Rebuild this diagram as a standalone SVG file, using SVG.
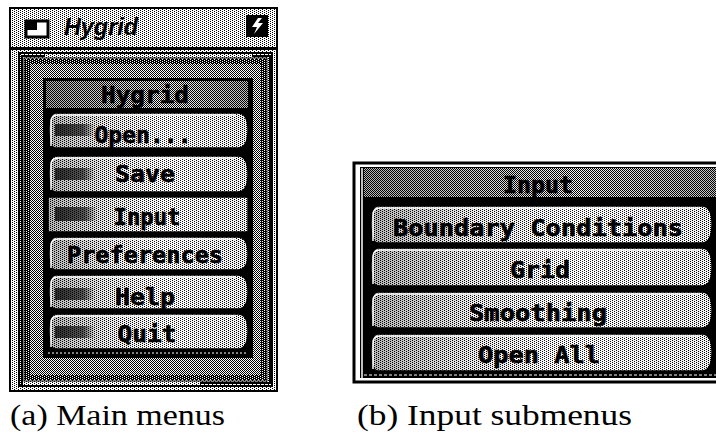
<svg xmlns="http://www.w3.org/2000/svg" width="716" height="434" viewBox="0 0 716 434">
<defs>
<pattern id="p25" width="4" height="2" patternUnits="userSpaceOnUse"><rect width="4" height="2" fill="#fff"/><rect x="0" y="0" width="1" height="1" fill="#000"/><rect x="2" y="1" width="1" height="1" fill="#000"/></pattern>
<pattern id="p50" width="2" height="2" patternUnits="userSpaceOnUse"><rect width="2" height="2" fill="#fff"/><rect width="1" height="1" fill="#000"/><rect x="1" y="1" width="1" height="1" fill="#000"/></pattern>
<pattern id="p75" width="4" height="2" patternUnits="userSpaceOnUse"><rect width="4" height="2" fill="#000"/><rect x="0" y="0" width="1" height="1" fill="#fff"/><rect x="2" y="1" width="1" height="1" fill="#fff"/></pattern>
<linearGradient id="shadeL" x1="0" y1="0" x2="1" y2="0"><stop offset="0" stop-color="#000" stop-opacity="0.3"/><stop offset="0.3" stop-color="#000" stop-opacity="0.08"/><stop offset="0.6" stop-color="#fff" stop-opacity="0.1"/><stop offset="1" stop-color="#000" stop-opacity="0.05"/></linearGradient>
<linearGradient id="shadeT" x1="0" y1="0" x2="1" y2="0"><stop offset="0" stop-color="#000" stop-opacity="0.3"/><stop offset="0.6" stop-color="#000" stop-opacity="0.05"/><stop offset="1" stop-color="#000" stop-opacity="0.25"/></linearGradient>
<linearGradient id="ind" x1="0" y1="0" x2="1" y2="0"><stop offset="0" stop-color="#000" stop-opacity="0.75"/><stop offset="0.7" stop-color="#000" stop-opacity="0.6"/><stop offset="1" stop-color="#000" stop-opacity="0"/></linearGradient>
<style>
.btn{fill:url(#p25);stroke:#000;stroke-width:1.5}
.hl{fill:none;stroke:#fff;stroke-width:1.5}
.shade{fill:url(#shadeL)}
.lbl{font-family:"DejaVu Sans Mono",monospace;font-weight:bold;font-size:23px;fill:#000;text-anchor:middle;stroke:#000;stroke-width:0.6}
.cap{font-family:"Liberation Serif","DejaVu Serif",serif;font-size:30px;fill:#000}
</style>
</defs>
<rect width="716" height="434" fill="#fff"/>

<g id="window-a">
 <rect x="10" y="8" width="267" height="383" fill="url(#p25)" stroke="#000" stroke-width="2"/>
 <rect x="11" y="9" width="265" height="39" fill="url(#p25)"/>
 <line x1="10" y1="48.5" x2="277" y2="48.5" stroke="#000" stroke-width="3"/>
 <g id="title-icon-left">
  <rect x="26" y="21" width="22" height="16" fill="#fff" stroke="#000" stroke-width="3"/>
  <rect x="25" y="20" width="12" height="10" fill="#000"/>
 </g>
 <text x="64" y="35" font-family="Liberation Sans, Arial, sans-serif" font-weight="bold" font-style="italic" font-size="24" textLength="74" lengthAdjust="spacingAndGlyphs">Hygrid</text>
 <g id="title-icon-right">
  <rect x="246" y="15" width="22" height="22" fill="#000"/>
  <polygon points="258,18 252,27 257,27 254,34 263,23 258,23 262,18" fill="#fff"/>
 </g>
 <rect x="19" y="53" width="253" height="333" fill="url(#p25)" stroke="#000" stroke-width="2"/>
 <rect x="25" y="59" width="241" height="321" fill="url(#p75)"/>
 <rect x="30" y="64" width="231" height="311" fill="url(#p50)"/>
 <rect x="24" y="58" width="243" height="323" fill="none" stroke="#000" stroke-width="1"/>
 <polyline points="22,385 22,56 45,56" fill="none" stroke="#000" stroke-width="2"/>
 <polyline points="252,56 270,56 270,383 200,383" fill="none" stroke="#000" stroke-width="2"/>
 <rect x="43" y="78" width="210" height="280" fill="#000"/>
</g>

<g id="menu-title-a">
 <rect x="46" y="81" width="202" height="27" fill="url(#p50)"/>
 <rect x="46" y="81" width="202" height="27" fill="url(#shadeT)"/>
 <text class="lbl" x="145" y="103" textLength="88" lengthAdjust="spacingAndGlyphs">Hygrid</text>
</g>

<g id="btn-open">
 <path class="btn" d="M56,113 H238 Q248,113 248,130 Q248,148 238,148 H56 Q49,148 49,130 Q49,113 56,113 Z"/>
 <path class="shade" d="M56,113 H238 Q248,113 248,130 Q248,148 238,148 H56 Q49,148 49,130 Q49,113 56,113 Z"/>
 <path class="hl" d="M51,146 V122 Q51,115 58,115 H236"/>
 <rect x="55" y="124" width="40" height="12" fill="url(#ind)"/>
 <text class="lbl" x="143" y="143" textLength="97" lengthAdjust="spacingAndGlyphs">Open...</text>
</g>
<g id="btn-save">
 <path class="btn" d="M56,156 H238 Q248,156 248,174 Q248,192 238,192 H56 Q49,192 49,174 Q49,156 56,156 Z"/>
 <path class="shade" d="M56,156 H238 Q248,156 248,174 Q248,192 238,192 H56 Q49,192 49,174 Q49,156 56,156 Z"/>
 <path class="hl" d="M51,190 V165 Q51,158 58,158 H236"/>
 <rect x="55" y="168" width="40" height="12" fill="url(#ind)"/>
 <text class="lbl" x="145" y="182" textLength="60" lengthAdjust="spacingAndGlyphs">Save</text>
</g>
<g id="btn-input">
 <rect x="48" y="197" width="200" height="35" fill="url(#p25)" stroke="#000" stroke-width="1.5"/>
 <rect x="48" y="197" width="200" height="35" class="shade"/>
 <rect x="55" y="207" width="42" height="14" fill="url(#ind)"/>
 <text class="lbl" x="147" y="225" textLength="67" lengthAdjust="spacingAndGlyphs">Input</text>
</g>
<g id="btn-preferences">
 <path class="btn" d="M56,237 H238 Q248,237 248,254 Q248,270 238,270 H56 Q49,270 49,254 Q49,237 56,237 Z"/>
 <path class="shade" d="M56,237 H238 Q248,237 248,254 Q248,270 238,270 H56 Q49,270 49,254 Q49,237 56,237 Z"/>
 <path class="hl" d="M51,268 V246 Q51,239 58,239 H236"/>
 <text class="lbl" x="145" y="263" textLength="156" lengthAdjust="spacingAndGlyphs">Preferences</text>
</g>
<g id="btn-help">
 <path class="btn" d="M56,275 H238 Q248,275 248,292 Q248,309 238,309 H56 Q49,309 49,292 Q49,275 56,275 Z"/>
 <path class="shade" d="M56,275 H238 Q248,275 248,292 Q248,309 238,309 H56 Q49,309 49,292 Q49,275 56,275 Z"/>
 <path class="hl" d="M51,307 V284 Q51,277 58,277 H236"/>
 <rect x="55" y="288" width="40" height="12" fill="url(#ind)"/>
 <text class="lbl" x="145" y="305" textLength="60" lengthAdjust="spacingAndGlyphs">Help</text>
</g>
<g id="btn-quit">
 <path class="btn" d="M56,314 H238 Q248,314 248,331 Q248,349 238,349 H56 Q49,349 49,331 Q49,314 56,314 Z"/>
 <path class="shade" d="M56,314 H238 Q248,314 248,331 Q248,349 238,349 H56 Q49,349 49,331 Q49,314 56,314 Z"/>
 <path class="hl" d="M51,347 V323 Q51,316 58,316 H236"/>
 <rect x="55" y="326" width="40" height="12" fill="url(#ind)"/>
 <text class="lbl" x="147" y="342" textLength="59" lengthAdjust="spacingAndGlyphs">Quit</text>
 <line x1="48" y1="353" x2="248" y2="353" stroke="#fff" stroke-width="1" stroke-dasharray="2,2"/>
</g>

<g id="window-b">
 <rect x="354" y="163" width="364" height="219" fill="#fff" stroke="#000" stroke-width="3"/>
 <rect x="360" y="167" width="358" height="211" fill="#000"/>
 <line x1="362" y1="168" x2="362" y2="378" stroke="#fff" stroke-width="1.5"/>
</g>
<g id="menu-title-b">
 <rect x="364" y="168" width="354" height="29" fill="url(#p50)"/>
 <rect x="364" y="168" width="354" height="29" fill="url(#shadeT)"/>
 <text class="lbl" x="538" y="193" font-size="24" textLength="70" lengthAdjust="spacingAndGlyphs">Input</text>
</g>
<g id="btn-boundary">
 <path class="btn" d="M378,206 H702 Q712,206 712,224 Q712,243 702,243 H378 Q371,243 371,224 Q371,206 378,206 Z"/>
 <path class="shade" d="M378,206 H702 Q712,206 712,224 Q712,243 702,243 H378 Q371,243 371,224 Q371,206 378,206 Z"/>
 <path class="hl" d="M373,241 V215 Q373,208 380,208 H700"/>
 <text class="lbl" x="538" y="236" font-size="24" textLength="290" lengthAdjust="spacingAndGlyphs">Boundary Conditions</text>
</g>
<g id="btn-grid">
 <path class="btn" d="M378,248 H702 Q712,248 712,267 Q712,286 702,286 H378 Q371,286 371,267 Q371,248 378,248 Z"/>
 <path class="shade" d="M378,248 H702 Q712,248 712,267 Q712,286 702,286 H378 Q371,286 371,267 Q371,248 378,248 Z"/>
 <path class="hl" d="M373,284 V257 Q373,250 380,250 H700"/>
 <text class="lbl" x="540" y="278" font-size="24" textLength="60" lengthAdjust="spacingAndGlyphs">Grid</text>
</g>
<g id="btn-smoothing">
 <path class="btn" d="M378,292 H702 Q712,292 712,310 Q712,328 702,328 H378 Q371,328 371,310 Q371,292 378,292 Z"/>
 <path class="shade" d="M378,292 H702 Q712,292 712,310 Q712,328 702,328 H378 Q371,328 371,310 Q371,292 378,292 Z"/>
 <path class="hl" d="M373,326 V301 Q373,294 380,294 H700"/>
 <text class="lbl" x="538" y="321" font-size="24" textLength="138" lengthAdjust="spacingAndGlyphs">Smoothing</text>
</g>
<g id="btn-openall">
 <path class="btn" d="M378,334 H702 Q712,334 712,352 Q712,371 702,371 H378 Q371,371 371,352 Q371,334 378,334 Z"/>
 <path class="shade" d="M378,334 H702 Q712,334 712,352 Q712,371 702,371 H378 Q371,371 371,352 Q371,334 378,334 Z"/>
 <path class="hl" d="M373,369 V343 Q373,336 380,336 H700"/>
 <text class="lbl" x="539" y="363" font-size="24" textLength="122" lengthAdjust="spacingAndGlyphs">Open All</text>
 <line x1="364" y1="375" x2="716" y2="375" stroke="#fff" stroke-width="1" stroke-dasharray="3,2"/>
</g>

<g id="captions">
 <text class="cap" x="10" y="425" textLength="215" lengthAdjust="spacingAndGlyphs">(a) Main menus</text>
 <text class="cap" x="357" y="425" textLength="275" lengthAdjust="spacingAndGlyphs">(b) Input submenus</text>
</g>
</svg>
